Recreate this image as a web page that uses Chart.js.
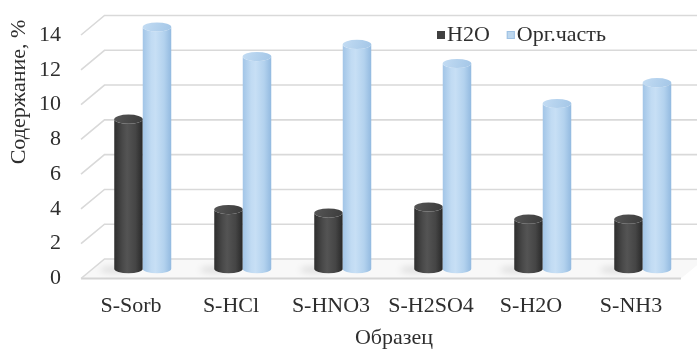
<!DOCTYPE html>
<html>
<head>
<meta charset="utf-8">
<script src="https://cdn.jsdelivr.net/npm/chart.js@4.4.1/dist/chart.umd.min.js"></script>
<style>
  html, body { margin: 0; padding: 0; background: #ffffff; }
  #wrap { width: 697px; height: 352px; }
</style>
</head>
<body>
<div id="wrap"><canvas id="chart" width="697" height="352"></canvas></div>
<script>
// Samples and measured content, %
const categories = ['S-Sorb', 'S-HCl', 'S-HNO3', 'S-H2SO4', 'S-H2O', 'S-NH3'];
const h2oValues = [8.6, 3.4, 3.2, 3.55, 2.85, 2.85];
const orgValues = [13.9, 12.2, 12.9, 11.8, 9.5, 10.7];
const seriesNames = ['H2O', 'Орг.часть'];
const yTickValues = [0, 2, 4, 6, 8, 10, 12, 14];
const axisTitles = { x: 'Образец', y: 'Содержание, %' };

const FONT = '"Liberation Serif", "Times New Roman", serif';
const TEXT = '#2e2e2e';
// depth of the 3D box (back wall offset)
const DX = 23.5, DY = 19.5;

const palettes = [
  { legend: '#404040', body: ['#2e2e2e', '#4a4a4a', '#545454', '#454545', '#282828'], top: ['#565656', '#3b3b3b'] },
  { legend: '#bdd7ee', body: ['#a2c5e7', '#c1dbf3', '#c7dff5', '#b3d2ee', '#93bae0'], top: ['#c3dcf3', '#a3c6e7'] }
];

function cylinder(ctx, cx, top, bottom, rx, ry, pal) {
  const g = ctx.createLinearGradient(cx - rx, 0, cx + rx, 0);
  g.addColorStop(0, pal.body[0]);
  g.addColorStop(0.3, pal.body[1]);
  g.addColorStop(0.45, pal.body[2]);
  g.addColorStop(0.75, pal.body[3]);
  g.addColorStop(1, pal.body[4]);
  ctx.beginPath();
  ctx.moveTo(cx - rx, top);
  ctx.lineTo(cx - rx, bottom);
  ctx.ellipse(cx, bottom, rx, ry, 0, Math.PI, 0, true);
  ctx.lineTo(cx + rx, top);
  ctx.ellipse(cx, top, rx, ry, 0, 0, Math.PI, false);
  ctx.closePath();
  ctx.fillStyle = g;
  ctx.fill();
  const t = ctx.createLinearGradient(cx - rx, top - ry, cx + rx, top + ry);
  t.addColorStop(0, pal.top[0]);
  t.addColorStop(1, pal.top[1]);
  ctx.beginPath();
  ctx.ellipse(cx, top, rx, ry, 0, 0, Math.PI * 2);
  ctx.fillStyle = t;
  ctx.fill();
}

const box3d = {
  id: 'box3d',
  beforeDatasetsDraw(chart) {
    const ctx = chart.ctx;
    const { left, right } = chart.chartArea;
    const ys = chart.scales.y;
    const W = chart.width;
    const y0 = ys.getPixelForValue(0);
    ctx.save();
    // floor
    ctx.beginPath();
    ctx.moveTo(left, y0);
    ctx.lineTo(right, y0);
    ctx.lineTo(right + DX, y0 - DY);
    ctx.lineTo(left + DX, y0 - DY);
    ctx.closePath();
    ctx.fillStyle = '#f8f8f8';
    ctx.fill();
    ctx.strokeStyle = '#d4d4d4';
    ctx.lineWidth = 1.8;
    ctx.beginPath();
    ctx.moveTo(left, y0);
    ctx.lineTo(right, y0);
    ctx.stroke();
    // back-wall gridlines with the side-wall diagonals
    ctx.strokeStyle = '#d9d9d9';
    ctx.lineWidth = 1.6;
    yTickValues.forEach(v => {
      const y = ys.getPixelForValue(v);
      ctx.beginPath();
      ctx.moveTo(left, y);
      ctx.lineTo(left + DX, y - DY);
      ctx.lineTo(W, y - DY);
      ctx.stroke();
    });
    // soft floor shadows
    const m0 = chart.getDatasetMeta(0).data;
    ctx.filter = 'blur(3px)';
    ctx.fillStyle = 'rgba(0,0,0,0.10)';
    m0.forEach(el => {
      const cx = el.x + DX / 2 - el.width * 0.5;
      ctx.beginPath();
      ctx.ellipse(cx, el.base - DY / 2 + 1, el.width * 0.5, 3.5, 0, 0, Math.PI * 2);
      ctx.fill();
    });
    ctx.filter = 'none';
    // cylinders
    chart.data.datasets.forEach((ds, i) => {
      chart.getDatasetMeta(i).data.forEach(el => {
        const rx = el.width / 2;
        cylinder(ctx, el.x + DX / 2, el.y - DY / 2, el.base - DY / 2, rx, 4.6, palettes[i]);
      });
    });
    ctx.restore();
    return false;
  },
  afterDraw(chart) {
    const ctx = chart.ctx;
    ctx.save();
    ctx.fillStyle = TEXT;
    ctx.font = '22px ' + FONT;
    ctx.textBaseline = 'middle';
    // legend
    let x = 437;
    const ly = 35;
    chart.data.datasets.forEach((ds, i) => {
      ctx.fillStyle = palettes[i].legend;
      ctx.fillRect(x, ly - 4, 8, 8);
      if (i === 1) { ctx.strokeStyle = '#9fc2e4'; ctx.lineWidth = 1; ctx.strokeRect(x + 0.5, ly - 3.5, 7, 7); }
      ctx.fillStyle = TEXT;
      ctx.textAlign = 'left';
      ctx.fillText(ds.label, x + 10, ly);
      x += 10 + ctx.measureText(ds.label).width + 17;
    });
    // axis titles
    ctx.textAlign = 'center';
    ctx.fillText(axisTitles.x, 394, 338);
    ctx.translate(19, 92);
    ctx.rotate(-Math.PI / 2);
    ctx.fillText(axisTitles.y, 0, 0);
    ctx.restore();
  }
};

new Chart(document.getElementById('chart'), {
  type: 'bar',
  data: {
    labels: categories,
    datasets: [
      { label: seriesNames[0], data: h2oValues, backgroundColor: palettes[0].legend },
      { label: seriesNames[1], data: orgValues, backgroundColor: palettes[1].legend }
    ]
  },
  options: {
    responsive: false,
    animation: false,
    devicePixelRatio: 1,
    categoryPercentage: 0.57,
    barPercentage: 1,
    layout: { padding: { top: 35, right: 16, left: 0, bottom: 0 } },
    plugins: { legend: { display: false }, tooltip: { enabled: false } },
    scales: {
      x: {
        grid: { display: false, drawTicks: false },
        border: { display: false },
        ticks: { color: TEXT, font: { family: FONT, size: 22 }, padding: 15, maxRotation: 0, autoSkip: false },
        afterFit(s) { s.height = 73.5; }
      },
      y: {
        min: 0, max: 14,
        afterBuildTicks(s) { s.ticks = yTickValues.map(v => ({ value: v })); },
        grid: { display: false, drawTicks: false },
        border: { display: false },
        ticks: { color: TEXT, font: { family: FONT, size: 22 }, padding: 20 },
        afterFit(s) { s.width = 81; }
      }
    }
  },
  plugins: [box3d]
});
</script>
</body>
</html>
